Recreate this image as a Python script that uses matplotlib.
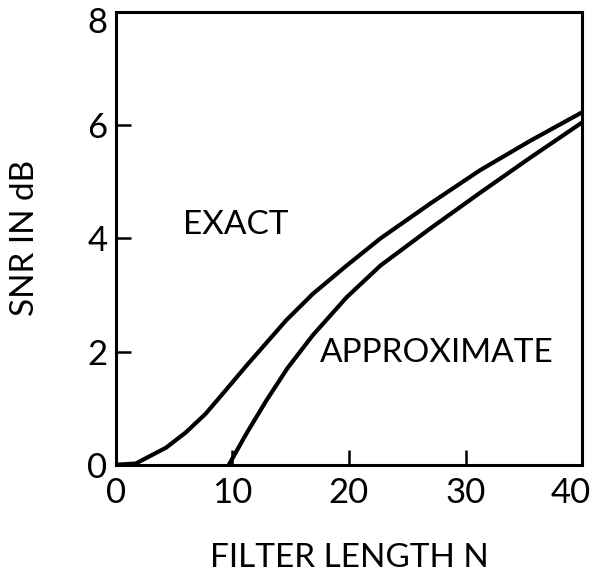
import matplotlib
matplotlib.use("Agg")
import matplotlib.pyplot as plt
import matplotlib.transforms as mtransforms

# Data
exact_n = [0, 1.7, 4.3, 6.0, 7.7, 9.4, 11.2, 12.9, 14.6, 16.9, 19.8, 22.7, 27.0, 31.2, 35.5, 40]
exact_snr = [0, 0.02, 0.3, 0.57, 0.9, 1.31, 1.75, 2.15, 2.55, 3.02, 3.52, 4.0, 4.62, 5.2, 5.72, 6.23]
approx_n = [9.7, 11.2, 12.9, 14.7, 16.9, 19.8, 22.7, 27.0, 31.2, 35.5, 40]
approx_snr = [0, 0.55, 1.13, 1.7, 2.29, 2.96, 3.52, 4.18, 4.8, 5.42, 6.05]

x_ticks = [0, 10, 20, 30, 40]
y_ticks = [0, 2, 4, 6, 8]
xlabel = "FILTER LENGTH N"
ylabel = "SNR IN dB"

plt.rcParams['font.family'] = ['Lato', 'DejaVu Sans']

fig = plt.figure(figsize=(5.91, 5.78), dpi=100)
ax = fig.add_axes([0.196, 0.196, 0.789, 0.783])

ax.plot(exact_n, exact_snr, color='black', lw=3, solid_capstyle='round', solid_joinstyle='round')
ax.plot(approx_n, approx_snr, color='black', lw=3, solid_capstyle='round', solid_joinstyle='round')

ax.set_xlim(0, 40)
ax.set_ylim(0, 8)
ax.set_xticks(x_ticks)
ax.set_yticks(y_ticks)
ax.set_xticklabels([str(t) for t in x_ticks])
ax.set_yticklabels([str(t) for t in y_ticks])
ax.tick_params(direction='in', length=11, width=1.8, labelsize=25,
               top=False, right=False)
ax.tick_params(axis='x', pad=9)
ax.tick_params(axis='y', pad=6)
for s in ax.spines.values():
    s.set_linewidth(2.2)

# keep the last x label inside the figure, as in the reference
last = ax.get_xticklabels()[-1]
last.set_transform(last.get_transform() + mtransforms.ScaledTranslation(-11 / 100, 0, fig.dpi_scale_trans))
top = ax.get_yticklabels()[-1]
top.set_transform(top.get_transform() + mtransforms.ScaledTranslation(0, -8 / 100, fig.dpi_scale_trans))

ax.set_xlabel(xlabel, fontsize=24, labelpad=24)
ax.set_ylabel(ylabel, fontsize=24, labelpad=34)

ax.text(5.75, 4.23, "EXACT", fontsize=24, ha='left', va='center')
ax.text(17.5, 1.98, "APPROXIMATE", fontsize=24, ha='left', va='center')

fig.savefig("out.png", dpi=100, facecolor='white')
